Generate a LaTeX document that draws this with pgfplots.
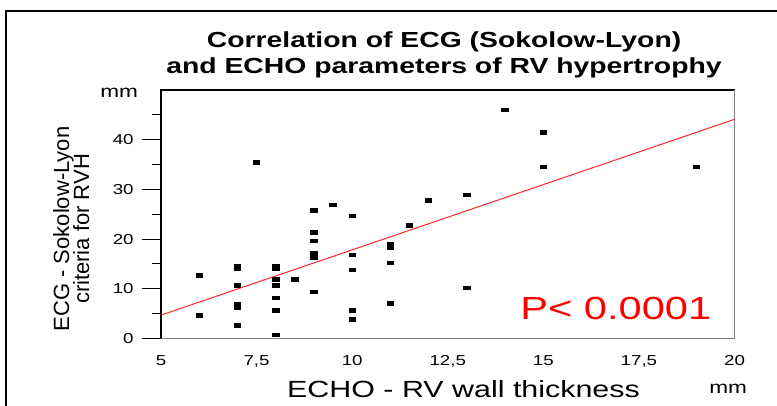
\documentclass[border=0pt]{standalone}
\usepackage{fontspec}
\setmainfont{Liberation Sans}[FakeStretch=1.3]
\newfontfamily\yfont{Liberation Sans}
\usepackage{pgfplots}
\pgfplotsset{compat=1.18}
\begin{document}
\begin{tikzpicture}
\path[use as bounding box] (-80.5pt,-33.75pt) rectangle (308pt,169.25pt);
% outer frame (left and top)
\draw[black,line width=1pt] (-77.25pt,-40pt) -- (-77.25pt,163.75pt) -- (320pt,163.75pt);
\begin{axis}[
  scale only axis,
  width=286.75pt, height=124.25pt,
  xmin=5, xmax=20, ymin=0, ymax=50,
  axis line style={draw=none},
  tick align=outside,
  xtick pos=left, ytick pos=left,
  xtick={5,7.5,10,12.5,15,17.5,20},
  xticklabels={5,{7,5},10,{12,5},15,{17,5},20},
  xtick style={draw=none},
  minor xtick={5,7.5,10,12.5,15,17.5,20},
  ytick={0,10,20,30,40},
  minor ytick={5,15,25,35,45},
  major tick length=9.5pt,
  minor tick length=4.6pt,
  tick style={black,line width=0.5pt},
  minor tick style={black,line width=0.5pt},
  /pgf/number format/assume math mode=true,
  ticklabel style={font=\fontsize{7.2}{8}\selectfont},
  yticklabel style={anchor=east,inner sep=0pt,xshift=-4pt},
  xticklabel style={anchor=north,inner sep=0pt,yshift=1.4pt},
  clip=false,
]
\draw[black,line width=0.6pt] (rel axis cs:0,0) -- (rel axis cs:0,1) -- (rel axis cs:1,1);
\draw[gray,line width=0.6pt] (rel axis cs:0,0) -- (rel axis cs:1,0) -- (rel axis cs:1,1);
\addplot[only marks, mark=square*, mark size=0.9pt, mark options={xscale=1.8, black, draw=black}] coordinates {
(6,12.7) (6,4.6)
(7,14.0) (7,14.6) (7,10.7) (7,7.0) (7,6.2) (7,2.6)
(7.5,35.4)
(8,14.0) (8,14.6) (8,11.9) (8,10.7) (8,8.2) (8,5.7) (8,0.7)
(8.5,11.9)
(9,25.8) (9,21.4) (9,19.6) (9,17.1) (9,16.3) (9,9.4)
(9.5,26.9)
(10,24.7) (10,16.8) (10,13.8) (10,5.7) (10,3.8)
(11,18.3) (11,18.9) (11,15.2) (11,7.1)
(11.5,22.8)
(12,27.8)
(13,28.9) (13,10.2)
(14,46.0)
(15,41.5) (15,34.5)
(19,34.5)
};
\addplot[red!85!white, line width=0.5pt, no marks] coordinates {(5,4.7) (20,44.1)};
\end{axis}
% title
\node[font=\bfseries\fontsize{10.9}{12.5}\selectfont, anchor=center] at (141.5pt,148.25pt) {Correlation of ECG (Sokolow-Lyon)};
\node[font=\bfseries\fontsize{10.9}{12.5}\selectfont, anchor=center] at (141.5pt,135.5pt) {and ECHO parameters of RV hypertrophy};
% units
\node[font=\fontsize{8.7}{10}\selectfont, anchor=base west, inner sep=0pt] at (-30.5pt,120.6pt) {mm};
\node[font=\fontsize{8.7}{10}\selectfont, anchor=base west, inner sep=0pt] at (274pt,-27.4pt) {mm};
% axis labels
\node[font=\fontsize{11.7}{13}\selectfont, anchor=base, inner sep=0pt] at (151.25pt,-29.6pt) {ECHO - RV wall thickness};
\node[font=\yfont\fontsize{11}{10}\selectfont, rotate=90, align=center, inner sep=0pt] at (-44.9pt,54.75pt) {ECG - Sokolow-Lyon\\[-1.2pt]criteria for RVH};
% P value
\node[font=\fontsize{16}{18}\selectfont, text=red, anchor=base west, inner sep=0pt] at (179.5pt,9.6pt) {P< 0.0001};
\end{tikzpicture}
\end{document}
